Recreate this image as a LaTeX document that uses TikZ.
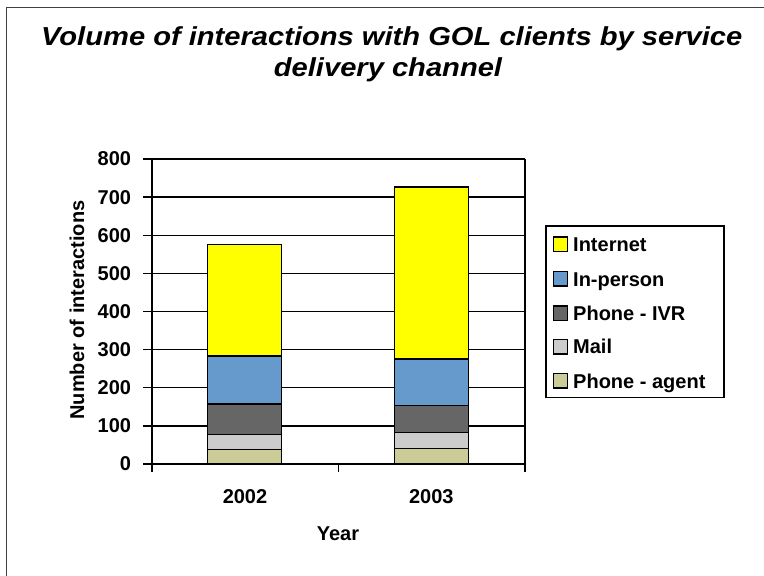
\documentclass[tikz,border=0pt]{standalone}
\usepackage{fontspec}
\setmainfont{Liberation Sans}
\newfontfamily\titlefont[FakeStretch=1.12]{Liberation Sans}

\definecolor{internet}{HTML}{FFFF00}
\definecolor{inperson}{HTML}{6699CC}
\definecolor{ivr}{HTML}{666666}
\definecolor{mail}{HTML}{CCCCCC}
\definecolor{agent}{HTML}{CCCC99}

\tikzset{
  bar/.style={draw=black,line width=1.5pt},
  swatch/.style={draw=black,line width=1.4pt},
  gridline/.style={line width=1.3pt},
  lab/.style={font=\fontsize{20}{24}\selectfont\bfseries,inner sep=0pt},
  ttl/.style={font=\titlefont\fontsize{26}{30}\selectfont\bfseries\itshape,inner sep=0pt,anchor=base}
}

\begin{document}
\begin{tikzpicture}[x=1pt,y=1pt]
\useasboundingbox (0,0) rectangle (764,576);

%%%Frame
\begin{scope}
\clip (0,0) rectangle (764,576);
\draw[line width=1.5pt,black!75] (6.7,-20) rectangle (800,568.7);
\end{scope}

%%%Title
\node[ttl] (title1) at (391.7,530) {Volume of interactions with GOL clients by service};
\node[ttl] (title2) at (388,499) {delivery channel};

%%%Plot area
\begin{scope}[shift={(151.7,112)},y=0.38125pt]
%Grid lines and ticks with labels
\foreach \v in {100,200,...,800} \draw[gridline] (0,\v) -- (373.3,\v);
\foreach \v in {0,100,...,800} \draw[gridline] (-8.5,\v) -- (0,\v) node[lab,anchor=east] (tick\v) at (-20,\v) {\v};
%Axes and category ticks
\draw[line width=1.6pt] (0,-21) -- (0,800);
\draw[gridline] (373.3,-21) -- (373.3,800);
\draw[line width=1.6pt] (0,0) -- (373.3,0);
\draw[gridline] (186.6,-21) -- (186.6,0);
%Stacked bars
\foreach \x/\a/\b/\c/\d/\e in {93/38/78/157/283/576,279.6/40/83/153/276/726}{
\filldraw[bar,fill=agent] (\x-37,0) rectangle (\x+37,\a);
\filldraw[bar,fill=mail] (\x-37,\a) rectangle (\x+37,\b);
\filldraw[bar,fill=ivr] (\x-37,\b) rectangle (\x+37,\c);
\filldraw[bar,fill=inperson] (\x-37,\c) rectangle (\x+37,\d);
\filldraw[bar,fill=internet] (\x-37,\d) rectangle (\x+37,\e);
}
\end{scope}

%%%Axis labels
\foreach \x/\t in {245/2002,431.3/2003} \node[lab] (year\t) at (\x,79.3) {\t};
\node[lab] (xtitle) at (338,42) {Year};
\node[lab,rotate=90] (ytitle) at (77,266) {Number of interactions};

%%%Legend
\draw[line width=1.3pt] (546,350) rectangle (724,178.3);
\foreach \t/\c/\y in {Internet/internet/331.7,In-person/inperson/297,Phone - IVR/ivr/262.7,Mail/mail/229.3,Phone - agent/agent/195}{
\filldraw[swatch,fill=\c] (553.3,\y-7.2) rectangle (567.7,\y+7.2);
\node[lab,anchor=base west] (leg-\c) at (573,\y-7.2) {\t};
}

\end{tikzpicture}
\end{document}
